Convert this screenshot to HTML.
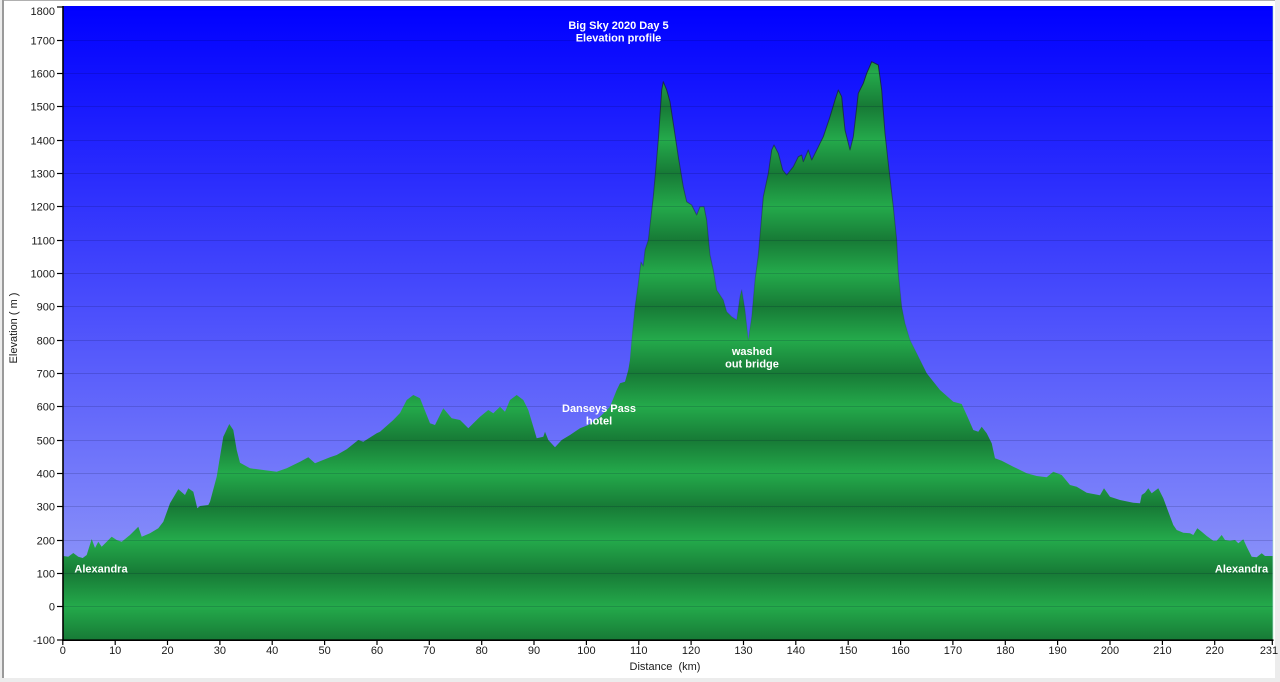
<!DOCTYPE html>
<html>
<head>
<meta charset="utf-8">
<style>
  html, body { margin:0; padding:0; }
  body { width:1280px; height:682px; background:#ececec; overflow:hidden; position:relative; }
  svg { position:absolute; left:0; top:0; }
  text { font-family:"Liberation Sans", "DejaVu Sans", sans-serif; }
</style>
</head>
<body>
<svg width="1280" height="682" viewBox="0 0 1280 682" xmlns="http://www.w3.org/2000/svg">
  <defs>
    <linearGradient id="bg" gradientUnits="userSpaceOnUse" x1="0" y1="6" x2="0" y2="640">
      <stop offset="0" stop-color="#0000ff"/>
      <stop offset="1" stop-color="#9ca4f8"/>
    </linearGradient>
    <linearGradient id="grn" gradientUnits="userSpaceOnUse" x1="0" y1="573.33" x2="0" y2="640" spreadMethod="repeat">
      <stop offset="0" stop-color="#177a36"/>
      <stop offset="0.5" stop-color="#24aa4b"/>
      <stop offset="1" stop-color="#177a36"/>
    </linearGradient>
    <linearGradient id="edge" gradientUnits="userSpaceOnUse" x1="0" y1="50" x2="0" y2="380">
      <stop offset="0" stop-color="#1a1a2a" stop-opacity="0.8"/>
      <stop offset="1" stop-color="#1a1a2a" stop-opacity="0"/>
    </linearGradient>
  </defs>

  <!-- panel -->
  <rect x="3" y="0" width="1272" height="678" fill="#ffffff"/>
  <line x1="3" y1="0.5" x2="1275" y2="0.5" stroke="#b0b0b0" stroke-width="1"/>
  <line x1="3" y1="0" x2="3" y2="678" stroke="#9a9a9a" stroke-width="2"/>

  <!-- plot background -->
  <rect x="63" y="6" width="1210" height="634" fill="url(#bg)"/>

  <!-- profile -->
  <path id="prof" fill="url(#grn)" stroke="url(#edge)" stroke-width="1" stroke-linejoin="round" d="M63.3,640 L63.3,556 L68.3,556.7 L73.3,553 L78.3,556.7 L82.7,558 L86.7,555 L91.7,539 L95,548 L98.3,541.7 L101.7,546.7 L106.7,541.7 L111.7,536.7 L116.7,540 L121.7,541.7 L130,535 L138.3,526.7 L141.7,536.7 L150,533.3 L158.3,528.3 L163.3,521.7 L170,503.3 L178.3,489.3 L185,495 L188.3,488.3 L193.3,491.7 L197.3,508.3 L200,506 L208.3,505 L210,501.7 L216.7,476.7 L223.3,436.7 L229.3,424 L233.3,430 L236.7,450 L240,462.7 L250,468.3 L263.3,470 L276.7,471.7 L286.7,468.3 L300,461.7 L308.3,457.3 L315,463.3 L330,457.3 L336.7,455 L346.7,449.3 L358.3,440 L363.3,441.7 L376.7,433.3 L380,431.7 L393.3,420 L400,413 L406.7,400 L413.3,395 L420,398.3 L430,423.3 L435,425 L443.3,408.3 L451.7,418.3 L460,420 L463.3,423.3 L468.3,428.3 L480,416.7 L488.3,410 L493.3,413.3 L500,406.7 L505,411.7 L510,400 L516.7,395 L523.3,400 L528.3,410 L533.3,426.7 L536.7,438.3 L543.3,436.7 L545,431.7 L548.3,440 L555,447.3 L561.7,440 L570,435 L580,428.3 L588.3,425 L600,416.7 L610,406.7 L616.7,390 L620,383.3 L625,381.7 L628.3,370 L630,360 L631.7,340 L635,306.7 L638.3,283.3 L641,262 L643.3,266 L645,250 L648.3,240 L653.3,196.7 L658.3,140 L661.7,90 L663.3,81.7 L666.7,90 L670,101.7 L673.3,123.3 L678.3,156.7 L683.3,186.7 L686.7,201.7 L691.7,205 L696.7,215 L700,206.7 L704,206.7 L706.7,220 L710,255 L713.3,270 L716.7,290 L723.3,300 L726.7,311.7 L731.7,316.7 L736.7,320 L740,296.7 L741.7,290 L745,310 L748.3,340 L751.7,316.7 L755,280 L758.3,255 L763.3,196.7 L768.3,173.3 L771.7,150 L774,145 L778.3,153.3 L782.7,170 L786.7,175 L793.3,166.7 L798.3,156.7 L801.7,155 L803.3,161.7 L808.3,150 L811.7,160 L816.7,150 L823.3,136.7 L830,116.7 L835,100 L838.3,90 L841.7,96.7 L845,130 L850,150 L853.3,136.7 L858.3,93.3 L863.3,83.3 L866.7,73.3 L871.7,61.7 L875,63.3 L878.3,65 L881.7,90 L885,133.3 L888.3,163.3 L893.3,206.7 L896.7,240 L898.3,273.3 L901.7,306.7 L905,323.3 L910,340 L916.7,353.3 L926.7,373.3 L940,390 L953.3,401.7 L961.7,404 L966.7,415 L973.3,430 L978.3,431.7 L981.7,426.7 L986.7,433.3 L991.7,443.3 L995,458.3 L1001.7,460.7 L1013.3,466.7 L1026.7,473.3 L1036.7,476 L1046.7,477.3 L1053.3,471.7 L1061.7,475 L1070,485 L1076.7,486.7 L1086.7,492.7 L1100,495.3 L1104,488.3 L1110,496.7 L1120,500 L1133.3,502.7 L1140,503.3 L1141.7,495 L1145,492.7 L1148.3,488.3 L1151.7,493.3 L1158.3,488.3 L1163.3,498.3 L1168.3,511.7 L1173.3,525 L1176.7,530 L1183.3,532.7 L1190,533.3 L1193.3,535 L1197.3,528.3 L1201.7,531.7 L1206.7,536 L1213.3,540.7 L1216.7,540.7 L1221.7,535 L1225,540 L1230,540.7 L1235,540 L1238.3,543.3 L1243.3,539.3 L1246.7,546.7 L1251.7,556.7 L1256.7,557.3 L1261.7,553.3 L1265,556 L1268.3,556 L1272.7,556 L1272.7,640 Z"/>

  <!-- gridlines -->
  <g stroke="#000030" stroke-opacity="0.15" stroke-width="1">
    <line x1="63" y1="40.5" x2="1273" y2="40.5"/>
    <line x1="63" y1="73.5" x2="1273" y2="73.5"/>
    <line x1="63" y1="106.5" x2="1273" y2="106.5"/>
    <line x1="63" y1="140.5" x2="1273" y2="140.5"/>
    <line x1="63" y1="173.5" x2="1273" y2="173.5"/>
    <line x1="63" y1="206.5" x2="1273" y2="206.5"/>
    <line x1="63" y1="240.5" x2="1273" y2="240.5"/>
    <line x1="63" y1="273.5" x2="1273" y2="273.5"/>
    <line x1="63" y1="306.5" x2="1273" y2="306.5"/>
    <line x1="63" y1="340.5" x2="1273" y2="340.5"/>
    <line x1="63" y1="373.5" x2="1273" y2="373.5"/>
    <line x1="63" y1="406.5" x2="1273" y2="406.5"/>
    <line x1="63" y1="440.5" x2="1273" y2="440.5"/>
    <line x1="63" y1="473.5" x2="1273" y2="473.5"/>
    <line x1="63" y1="506.5" x2="1273" y2="506.5"/>
    <line x1="63" y1="540.5" x2="1273" y2="540.5"/>
    <line x1="63" y1="573.5" x2="1273" y2="573.5"/>
    <line x1="63" y1="606.5" x2="1273" y2="606.5"/>
  </g>
  <line x1="1273" y1="6" x2="1273" y2="640" stroke="#a8e8c0" stroke-opacity="0.6" stroke-width="1"/>

  <!-- axes -->
  <line x1="63" y1="6" x2="63" y2="641" stroke="#000" stroke-width="1.6"/>
  <line x1="62" y1="640.2" x2="1273.5" y2="640.2" stroke="#000" stroke-width="1.6"/>
  <g stroke="#000" stroke-width="1.2">
    <line x1="57" y1="7" x2="63" y2="7"/>
    <line x1="57" y1="40.5" x2="63" y2="40.5"/>
    <line x1="57" y1="73.5" x2="63" y2="73.5"/>
    <line x1="57" y1="106.5" x2="63" y2="106.5"/>
    <line x1="57" y1="140.5" x2="63" y2="140.5"/>
    <line x1="57" y1="173.5" x2="63" y2="173.5"/>
    <line x1="57" y1="206.5" x2="63" y2="206.5"/>
    <line x1="57" y1="240.5" x2="63" y2="240.5"/>
    <line x1="57" y1="273.5" x2="63" y2="273.5"/>
    <line x1="57" y1="306.5" x2="63" y2="306.5"/>
    <line x1="57" y1="340.5" x2="63" y2="340.5"/>
    <line x1="57" y1="373.5" x2="63" y2="373.5"/>
    <line x1="57" y1="406.5" x2="63" y2="406.5"/>
    <line x1="57" y1="440.5" x2="63" y2="440.5"/>
    <line x1="57" y1="473.5" x2="63" y2="473.5"/>
    <line x1="57" y1="506.5" x2="63" y2="506.5"/>
    <line x1="57" y1="540.5" x2="63" y2="540.5"/>
    <line x1="57" y1="573.5" x2="63" y2="573.5"/>
    <line x1="57" y1="606.5" x2="63" y2="606.5"/>
    <line x1="57" y1="640" x2="63" y2="640"/>
  </g>
  <g stroke="#000" stroke-width="1.2">
    <line x1="62.8" y1="640" x2="62.8" y2="645"/>
    <line x1="115.2" y1="640" x2="115.2" y2="645"/>
    <line x1="167.5" y1="640" x2="167.5" y2="645"/>
    <line x1="219.9" y1="640" x2="219.9" y2="645"/>
    <line x1="272.2" y1="640" x2="272.2" y2="645"/>
    <line x1="324.6" y1="640" x2="324.6" y2="645"/>
    <line x1="377" y1="640" x2="377" y2="645"/>
    <line x1="429.3" y1="640" x2="429.3" y2="645"/>
    <line x1="481.7" y1="640" x2="481.7" y2="645"/>
    <line x1="534" y1="640" x2="534" y2="645"/>
    <line x1="586.4" y1="640" x2="586.4" y2="645"/>
    <line x1="638.8" y1="640" x2="638.8" y2="645"/>
    <line x1="691.1" y1="640" x2="691.1" y2="645"/>
    <line x1="743.5" y1="640" x2="743.5" y2="645"/>
    <line x1="795.8" y1="640" x2="795.8" y2="645"/>
    <line x1="848.2" y1="640" x2="848.2" y2="645"/>
    <line x1="900.6" y1="640" x2="900.6" y2="645"/>
    <line x1="952.9" y1="640" x2="952.9" y2="645"/>
    <line x1="1005.3" y1="640" x2="1005.3" y2="645"/>
    <line x1="1057.6" y1="640" x2="1057.6" y2="645"/>
    <line x1="1110" y1="640" x2="1110" y2="645"/>
    <line x1="1162.4" y1="640" x2="1162.4" y2="645"/>
    <line x1="1214.7" y1="640" x2="1214.7" y2="645"/>
    <line x1="1272.3" y1="640" x2="1272.3" y2="645"/>
  </g>

  <!-- y tick labels -->
  <g font-size="11" fill="#1a1a1a" text-anchor="end">
    <text x="55" y="15">1800</text>
    <text x="55" y="44.5">1700</text>
    <text x="55" y="77.5">1600</text>
    <text x="55" y="110.5">1500</text>
    <text x="55" y="144.5">1400</text>
    <text x="55" y="177.5">1300</text>
    <text x="55" y="210.5">1200</text>
    <text x="55" y="244.5">1100</text>
    <text x="55" y="277.5">1000</text>
    <text x="55" y="310.5">900</text>
    <text x="55" y="344.5">800</text>
    <text x="55" y="377.5">700</text>
    <text x="55" y="410.5">600</text>
    <text x="55" y="444.5">500</text>
    <text x="55" y="477.5">400</text>
    <text x="55" y="510.5">300</text>
    <text x="55" y="544.5">200</text>
    <text x="55" y="577.5">100</text>
    <text x="55" y="610.5">0</text>
    <text x="55" y="644">-100</text>
  </g>

  <!-- x tick labels -->
  <g font-size="11" fill="#1a1a1a" text-anchor="middle">
    <text x="62.8" y="654">0</text>
    <text x="115.2" y="654">10</text>
    <text x="167.5" y="654">20</text>
    <text x="219.9" y="654">30</text>
    <text x="272.2" y="654">40</text>
    <text x="324.6" y="654">50</text>
    <text x="377" y="654">60</text>
    <text x="429.3" y="654">70</text>
    <text x="481.7" y="654">80</text>
    <text x="534" y="654">90</text>
    <text x="586.4" y="654">100</text>
    <text x="638.8" y="654">110</text>
    <text x="691.1" y="654">120</text>
    <text x="743.5" y="654">130</text>
    <text x="795.8" y="654">140</text>
    <text x="848.2" y="654">150</text>
    <text x="900.6" y="654">160</text>
    <text x="952.9" y="654">170</text>
    <text x="1005.3" y="654">180</text>
    <text x="1057.6" y="654">190</text>
    <text x="1110" y="654">200</text>
    <text x="1162.4" y="654">210</text>
    <text x="1214.7" y="654">220</text>
    <text x="1269" y="654">231</text>
  </g>

  <!-- axis titles -->
  <text x="665" y="670" font-size="11" fill="#1a1a1a" text-anchor="middle" xml:space="preserve">Distance  (km)</text>
  <text transform="translate(17,328) rotate(-90)" font-size="11" fill="#1a1a1a" text-anchor="middle" xml:space="preserve">Elevation ( m )</text>

  <!-- annotations -->
  <g font-size="11" font-weight="bold" fill="#ffffff" text-anchor="middle">
    <text x="618.5" y="29">Big Sky 2020 Day 5</text>
    <text x="618.5" y="41.5">Elevation profile</text>
    <text x="599" y="412">Danseys Pass</text>
    <text x="599" y="424.5">hotel</text>
    <text x="752" y="355">washed</text>
    <text x="752" y="367.5">out bridge</text>
    <text x="101" y="572.5">Alexandra</text>
    <text x="1241.5" y="572.5">Alexandra</text>
  </g>
</svg>
</body>
</html>
